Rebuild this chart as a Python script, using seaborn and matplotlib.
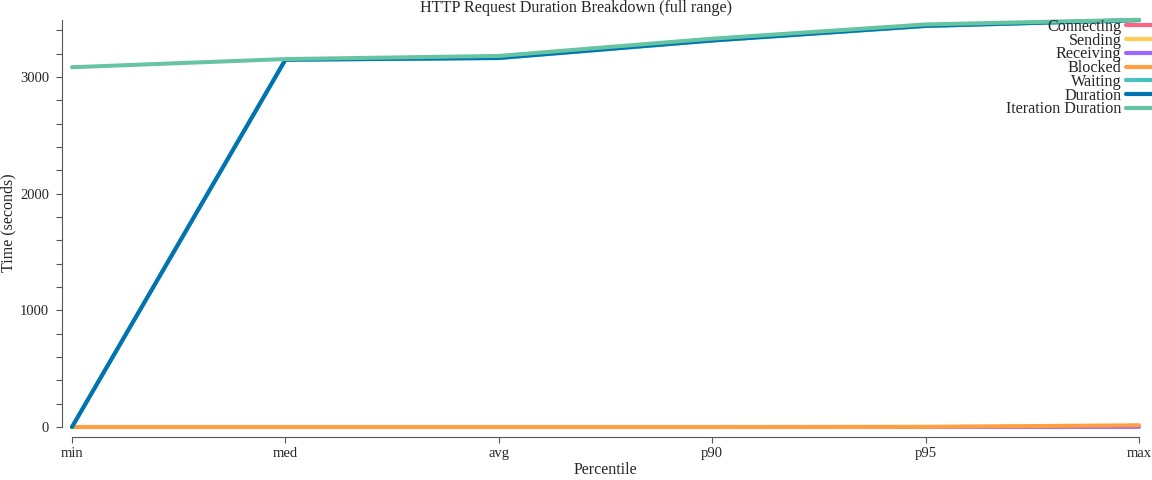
import pandas as pd
import seaborn as sns
import matplotlib.pyplot as plt
from matplotlib.ticker import MultipleLocator

percentiles = ['min', 'med', 'avg', 'p90', 'p95', 'max']

connecting = [0, 0, 0, 0, 0, 0]
sending = [0, 0, 0, 0, 0, 1]
receiving = [0, 0, 0, 0, 0, 2]
blocked = [0, 0, 0, 0, 1, 15]
waiting = [0, 3148, 3163, 3313, 3438, 3488]
duration = [0, 3150, 3165, 3315, 3440, 3490]
iteration_duration = [3085, 3155, 3182, 3330, 3452, 3492]

series_names = ['Connecting', 'Sending', 'Receiving', 'Blocked', 'Waiting',
                'Duration', 'Iteration Duration']
series_values = [connecting, sending, receiving, blocked, waiting,
                 duration, iteration_duration]
colors = ['#ff6384', '#ffcd56', '#9966ff', '#ff9f40', '#4bc0c0',
          '#0073b0', '#66c4a2']

rows = []
for name, vals in zip(series_names, series_values):
    for p, v in zip(percentiles, vals):
        rows.append({'Percentile': p, 'Time': v, 'Series': name})
df = pd.DataFrame(rows)

sns.set_style('ticks')
plt.rcParams['font.family'] = ['Liberation Serif', 'DejaVu Serif']

fig = plt.figure(figsize=(11.52, 4.8), dpi=100)
ax = fig.add_axes([72 / 1152, 53 / 480, 1067 / 1152, 407 / 480])

sns.lineplot(data=df, x='Percentile', y='Time', hue='Series',
             hue_order=series_names, palette=dict(zip(series_names, colors)),
             linewidth=2.9, ax=ax, sort=False)
for line in ax.get_lines():
    line.set_clip_on(False)

ax.set_xlim(0, 5)
ax.set_ylim(0, 3490)
ax.yaxis.set_major_locator(MultipleLocator(1000))
ax.yaxis.set_minor_locator(MultipleLocator(200))

# d3-like axes
ax.spines['top'].set_visible(False)
ax.spines['right'].set_visible(False)
ax.spines['left'].set_position(('outward', 7.2))
ax.spines['bottom'].set_position(('outward', 7.2))
for s in ['left', 'bottom']:
    ax.spines[s].set_color('#555555')
    ax.spines[s].set_linewidth(0.8)
ax.tick_params(axis='both', which='both', length=4.3, width=0.8,
               color='#555555', labelsize=10.5)
ax.tick_params(axis='y', which='both', pad=5)
ax.tick_params(axis='x', which='both', pad=3)

fig.text(0.5, 1 - 8 / 480, 'HTTP Request Duration Breakdown (full range)',
         ha='center', va='center', fontsize=11.6)
ax.set_xlabel('Percentile', fontsize=11.5, labelpad=1)
ax.set_ylabel('Time (seconds)', fontsize=11.5)
ax.yaxis.set_label_coords(16 / 1152, 1 - 223 / 480, transform=fig.transFigure)

leg = ax.legend(loc='upper right', bbox_to_anchor=(1152 / 1152, 461 / 480),
                bbox_transform=fig.transFigure, frameon=False,
                markerfirst=False, fontsize=11.6, labelspacing=-0.14,
                handlelength=1.6, handletextpad=0.3, borderaxespad=0,
                borderpad=0)
for line in leg.get_lines():
    line.set_linewidth(3)

fig.savefig('out.png', dpi=100)
